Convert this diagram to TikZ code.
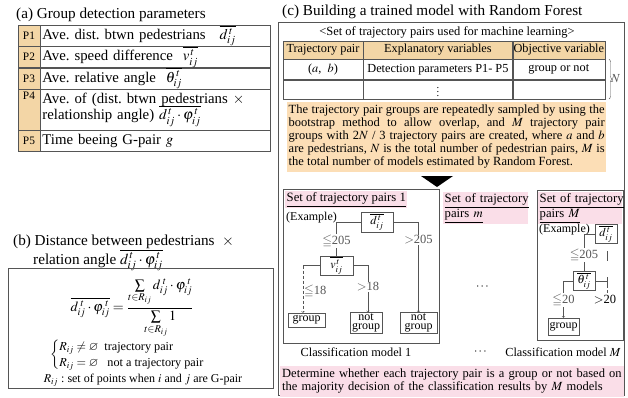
\documentclass[tikz,border=0pt]{standalone}
\usepackage{amsmath,amssymb}
\usepackage{mathptmx}
\usepackage{fontspec}
\setmainfont{Liberation Serif}
\usetikzlibrary{positioning,decorations.pathreplacing}
\definecolor{tanCol}{RGB}{243,214,166}
\definecolor{orangeCol}{RGB}{252,222,182}
\definecolor{pinkCol}{RGB}{250,222,232}
\definecolor{lineCol}{RGB}{85,85,85}
\tikzset{
  paneltitle/.style={anchor=west, inner sep=0, align=left, font=\fontsize{15.2}{14}\selectfont},
  plab/.style={draw=lineCol, fill=tanCol, minimum width=22, minimum height=#1, inner sep=0, font=\fontsize{11.4}{11}\selectfont},
  prow/.style={draw=lineCol, minimum width=230, minimum height=#1, text width=226, align=left, inner xsep=2, inner ysep=0, font=\fontsize{14.8}{16}\selectfont},
  tcell/.style 2 args={draw=lineCol, minimum width=#1, minimum height=#2, inner sep=0, font=\fontsize{12.3}{12}\selectfont},
  hcell/.style 2 args={tcell={#1}{#2}, fill=tanCol},
  pinklab/.style={fill=pinkCol, anchor=north west, align=left, inner sep=1.5, font=\fontsize{12.7}{13.5}\selectfont},
  tbox/.style={draw=lineCol, fill=white, inner sep=1, font=\fontsize{12}{12}\selectfont},
  leaf/.style={draw=lineCol, inner sep=1, align=center, font=\fontsize{12}{9.5}\selectfont},
  cond/.style={fill=white, inner sep=1, font=\fontsize{12.5}{12}\selectfont},
  note/.style={anchor=north west, inner xsep=1.5, inner ysep=3, font=\fontsize{12.5}{13}\selectfont}
}

\begin{document}
\frenchspacing
\begin{tikzpicture}[x=1pt, y=-1pt]
  \useasboundingbox (0,0) rectangle (628,398);

  % (a) parameters
  \draw node[paneltitle] (titleA) at (16,15) {(a) Group detection parameters};
  \draw node[plab=21] (P1) at (29,35.5) {P1};
  \draw node[prow=21, right=0 of P1] (R1) {Ave. dist. btwn pedestrians\hspace{14pt}$\overline{d_{ij}^{\,t}}$};
  \draw node[plab=21, below=0 of P1] (P2) {P2};
  \draw node[prow=21, right=0 of P2] (R2) {Ave. speed difference\ \ $\overline{v_{ij}^{\,t}}$};
  \draw node[plab=21, below=0 of P2] (P3) {P3};
  \draw node[prow=21, right=0 of P3] (R3) {Ave. relative angle\ \ $\overline{\theta_{ij}^{\,t}}$};
  \draw node[plab=41, below=0 of P3] (P4) {\parbox[t][36pt][t]{20pt}{\centering P4}};
  \draw node[prow=41, right=0 of P4] (R4) {Ave. of (dist. btwn pedestrians $\times$\\[-2pt]relationship angle) $\overline{d_{ij}^{\,t}\cdot\varphi_{ij}^{\,t}}$};
  \draw node[plab=21, below=0 of P4] (P5) {P5};
  \draw node[prow=21, right=0 of P5] (R5) {Time beeing G-pair $g$};

  % (b) formula
  \draw node[paneltitle] (titleB) at (13,253) {(b) Distance between pedestrians\ \ $\times$\\\hspace*{20pt}relation angle $\overline{d_{ij}^{\,t}\cdot\varphi_{ij}^{\,t}}$};
  \draw node[draw=lineCol, anchor=north west, minimum width=265, minimum height=120] (boxB) at (8,268) {};
  \draw node[font=\fontsize{14}{14}\selectfont] (eqB) at (132,308)
    {$\displaystyle \overline{d_{ij}^{\;t}\cdot\varphi_{ij}^{\;t}} = \frac{\sum\limits_{t\in R_{ij}} d_{ij}^{\;t}\cdot\varphi_{ij}^{\;t}}{\sum\limits_{t\in R_{ij}} 1}$};
  \draw node[anchor=west, inner sep=0, font=\fontsize{12.2}{16}\selectfont] (casesB) at (50,355)
    {$\left\{\begin{array}{@{}l@{}} R_{ij}\neq\varnothing\ \ \text{trajectory pair}\\ R_{ij}=\varnothing\ \ \ \text{not a trajectory pair}\end{array}\right.$};
  \draw node[font=\fontsize{12}{12}\selectfont] (defB) at (143,380) {$R_{ij}$ : set of points when $i$ and $j$ are G-pair};

  % (c) random forest
  \draw node[paneltitle] (titleC) at (282,12) {(c) Building a trained model with Random Forest};
  \draw node[draw=lineCol, anchor=north west, minimum width=346, minimum height=373] (boxC) at (278,22) {};
  \draw node[font=\fontsize{12.5}{12}\selectfont] (setTitle) at (447,32) {<Set of trajectory pairs used for machine learning>};

  \draw node[hcell={80}{18}] (h1) at (323,50) {Trajectory pair};
  \draw node[hcell={149}{18}, right=0 of h1] (h2) {Explanatory variables};
  \draw node[hcell={92}{18}, right=0 of h2] (h3) {Objective variable};
  \draw node[tcell={80}{20}, below=0 of h1] (a1) {($a$,\ \ $b$)};
  \draw node[tcell={149}{20}, right=0 of a1] (a2) {Detection parameters P1- P5};
  \draw node[tcell={92}{20}, right=0 of a2] (a3) {group or not};
  \draw node[tcell={80}{19}, below=0 of a1] (b1) {};
  \draw node[tcell={149}{19}, right=0 of b1, font=\fontsize{10.5}{10}\selectfont] (b2) {$\vdots$};
  \draw node[tcell={92}{19}, right=0 of b2] (b3) {};
  \draw [lineCol, decoration={brace, amplitude=3}, decorate]
    ([xshift=4]a3.north east) -- ([xshift=4]b3.south east) node [midway, right=2, inner sep=0, font=\fontsize{12.3}{12}\selectfont] (nLab) {$N$};

  \draw node[note, fill=orangeCol, minimum width=319, minimum height=68, text width=316, align=justify] (sampling) at (287,102)
    {The trajectory pair groups are repeatedly sampled by using the\linebreak
     bootstrap method to allow overlap, and $M$ trajectory pair\linebreak
     groups with 2$N$ / 3 trajectory pairs are created, where $a$ and $b$\linebreak
     are pedestrians, $N$ is the total number of pedestrian pairs, $M$ is\linebreak
     the total number of models estimated by Random Forest.};
  \fill (421,176) -- (453,176) -- (437,187) -- cycle;

  % model 1
  \draw node[draw=lineCol, anchor=north west, minimum width=156, minimum height=154] (m1) at (283,189) {};
  \draw node[pinklab] (s1) at (285,191) {\underline{Set of trajectory pairs 1}};
  \draw node[anchor=west, inner sep=0, font=\fontsize{12}{12}\selectfont] (ex1) at (286,218) {(Example)};
  \draw node[tbox, minimum width=32, minimum height=20] (d1) at (377,222) {$\overline{d_{ij}^{\,t}}$};
  \draw node[tbox, minimum width=33, minimum height=15] (v1) at (336.5,265.5) {$\overline{v_{ij}^{\,t}}$};
  \draw node[leaf, minimum width=37, minimum height=14] (g1) at (306.5,320) {group};
  \draw node[leaf, minimum width=32, minimum height=21] (n1) at (366,323) {not\\group};
  \draw node[leaf, minimum width=37, minimum height=21] (n2) at (418.5,323) {not\\group};
  \coordinate (g1L) at ([xshift=-3.5]g1.north);
  \draw [lineCol] (d1.west) -| node[cond, pos=0.78] (c1) {$\leqq$205} (v1.north);
  \draw [lineCol, ->] (d1.east) -| node[cond, pos=0.6] (c2) {$>$205} (n2.north);
  \draw [lineCol] (v1.west) -- (v1.west -| g1L);
  \draw [lineCol, densely dashed, ->] (v1.west -| g1L) -- node[cond, pos=0.55, anchor=west, fill=none] (c3) {$\leqq$18} (g1L);
  \draw [lineCol, ->] (v1.east) -| node[cond, pos=0.73] (c4) {$>$18} ([xshift=2]n1.north);
  \draw node[font=\fontsize{12.3}{12}\selectfont] (cap1) at (356,352) {Classification model 1};

  % model m
  \draw node[pinklab, text width=82] (sm) at (443,192) {\underline{Set of trajectory}\\\underline{pairs $m$}};
  \draw node[font=\fontsize{12}{12}\selectfont] (dots1) at (483,287) {$\cdots$};
  \draw node[font=\fontsize{12}{12}\selectfont] (dots2) at (481,352) {$\cdots$};

  % model M
  \draw node[draw=lineCol, anchor=north west, minimum width=86, minimum height=150] (mM) at (537,190) {};
  \draw node[pinklab, text width=81] (sM) at (538,192) {\underline{Set of trajectory}\\\underline{pairs $M$}};
  \draw node[anchor=west, inner sep=0, font=\fontsize{12}{12}\selectfont] (exM) at (539,230) {(Example)};
  \draw node[tbox, minimum width=22, minimum height=18] (dM) at (606,234) {$\overline{d_{ij}^{\,t}}$};
  \draw node[tbox, minimum width=22, minimum height=18] (tM) at (584,281) {$\overline{\theta_{ij}^{\,t}}$};
  \draw node[leaf, minimum width=31, minimum height=17] (gM) at (563.5,326.5) {group};
  \coordinate (dMa) at (607,251);
  \coordinate (dMb) at (607,261);
  \coordinate (tMcut) at (607,294);
  \draw [lineCol] (dM.west) -| node[cond, pos=0.78] (c5) {$\leqq$205} (tM.north);
  \draw [lineCol] (dMa) -- (dMb);
  \draw [lineCol, ->] (tM.west) -| node[cond, pos=0.76] (c6) {$\leqq$20} (gM.north);
  \draw [lineCol] (tM.east) -- (tM.east -| tMcut);
  \draw [lineCol] ([yshift=4]tM.east -| tMcut) -- ([yshift=-4]tM.east -| tMcut);
  \draw [lineCol, densely dashed] ([yshift=-4]tM.east -| tMcut) -- (tMcut);
  \draw node[cond, fill=none] (c7) at (605,300) {$>$20};
  \draw node[font=\fontsize{12.3}{12}\selectfont] (capM) at (563,352) {Classification model $M$};

  % majority vote
  \draw node[note, fill=pinkCol, minimum width=344, minimum height=29, text width=340, align=left] (vote) at (280,366)
    {Determine whether each trajectory pair is a group or not based on\\
     the majority decision of the classification results by $M$ models};
\end{tikzpicture}
\end{document}
